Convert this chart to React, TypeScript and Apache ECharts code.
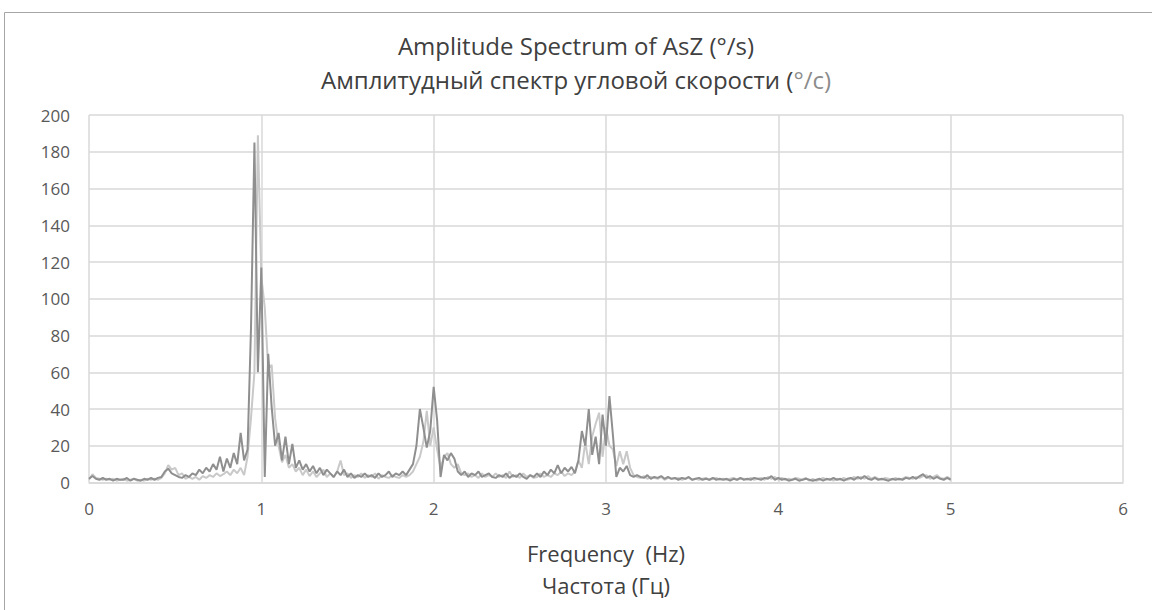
import React, { useEffect, useRef } from "react";
import * as echarts from "echarts";

// Frequency bin width (Hz) of the spectrum; bin i is at i * FREQ_STEP
const FREQ_STEP = 0.02;

const X_TICKS = [0, 1, 2, 3, 4, 5, 6];
const Y_TICKS = [0, 20, 40, 60, 80, 100, 120, 140, 160, 180, 200];

// Dark gray series (0 .. 5 Hz)
const darkAmp = [
  2, 3.5, 2, 1.5, 2.5, 1.5, 2, 1, 2, 1.5,
  1.5, 2.5, 1, 2, 1.5, 1, 2, 1.5, 2.5, 1.5,
  2.5, 3, 6, 7.5, 5, 4, 3, 2.5, 4, 3,
  5, 4, 7, 5, 8, 6, 10, 7, 14, 6,
  13, 8, 16, 10, 27, 12, 18, 84, 185, 60,
  117, 3, 70, 41, 20, 27, 12, 25, 10, 21,
  8, 12, 7, 10, 6, 9, 5, 8, 4, 7,
  5, 3, 6, 4, 7, 3, 5, 2.5, 4, 3,
  5, 3, 4, 2.5, 5, 3, 4, 6, 3, 5,
  4, 6, 4, 7, 10, 20, 40, 30, 19, 28,
  52, 34, 3, 15, 12, 16, 13, 6, 4, 6,
  3, 5, 4, 6, 3, 4, 5, 3, 2.5, 4,
  3, 5, 2.5, 4, 3, 5, 3, 2, 4, 3,
  5, 3, 6, 4, 7, 5, 9.5, 5, 8, 6,
  8.5, 5, 12, 28, 20, 40, 15, 25, 10, 37,
  20, 47, 26, 3, 8, 6, 9, 4, 3, 4,
  3, 2.5, 4, 2, 3, 2.5, 3.5, 2, 3, 2,
  2.5, 1.5, 2.5, 2, 3, 1.5, 2, 2.5, 1.5, 2,
  1.5, 2.5, 1.5, 2, 1.5, 2, 1, 2, 1.5, 2.5,
  1.5, 2, 1.5, 2.5, 2, 1.5, 2.5, 2, 3.5, 1.5,
  2.5, 1.5, 2, 1, 1.5, 2, 1, 1.5, 2, 1.5,
  1, 1.5, 2, 1, 2, 1.5, 2.5, 1.5, 2, 1,
  2, 2.5, 1.5, 3, 2, 3.5, 2, 1.5, 2.5, 1.5,
  2, 1.5, 1, 2, 1.5, 2, 1.5, 2.5, 2, 3,
  2, 3.5, 4.5, 2.5, 3.5, 2, 3, 2, 1.5, 2.5,
  1.5,
];

// Light gray series (0 .. 5 Hz)
const lightAmp = [
  1.5, 4.5, 2.5, 2, 1.5, 2, 1.5, 2, 1, 1.5,
  2, 1, 1.5, 2, 1, 1.5, 1, 2, 1.5, 2,
  1.5, 2.5, 5, 9.5, 7, 8, 4, 5, 2, 3,
  2, 3, 1.5, 3.5, 2.5, 4, 3, 5, 3.5, 4.5,
  6, 4, 7, 5, 8, 4, 14, 35, 60, 189,
  112, 95, 62, 64, 35, 20, 11, 15, 8, 10,
  6, 8, 4, 7, 3.5, 6, 3, 5, 7, 3,
  5, 3, 6, 12, 4, 5, 2.5, 4, 3, 5,
  2.5, 4, 3, 5, 2, 4, 3, 2.5, 4, 3,
  2.5, 4, 3, 4, 6, 10, 14, 22, 39, 20,
  30, 18, 8, 14, 16, 10, 8, 10, 5, 4,
  5, 3, 4, 2.5, 5, 3, 4, 3, 5, 3,
  4, 2.5, 6, 3, 4, 2.5, 5, 3, 4, 2.5,
  3, 5, 3, 4, 3, 5, 4, 6, 3.5, 5,
  4, 6, 12, 8, 22, 10, 25, 32, 38, 14,
  30, 20, 18, 9, 17, 10, 17, 8, 4, 3,
  2.5, 3.5, 2, 3, 2.5, 2, 3, 1.5, 2.5, 2,
  2, 2.5, 1.5, 2, 2.5, 1.5, 2, 1.5, 2, 2.5,
  1.5, 2, 2.5, 1.5, 2, 1.5, 2, 2.5, 1.5, 2,
  2, 1.5, 2.5, 1.5, 2, 2.5, 1.5, 3, 2, 3,
  1.5, 2.5, 1.5, 2, 1.5, 2.5, 2, 1.5, 2.5, 1,
  2, 1, 1.5, 2.5, 1.5, 2, 1, 2, 1.5, 2.5,
  1.5, 2, 3, 2, 3, 2, 3.5, 2, 3, 2,
  1.5, 2.5, 2, 1.5, 2.5, 1.5, 2, 3, 2.5, 2,
  3, 2.5, 3.5, 4, 2, 3, 4, 2.5, 2, 3,
  2,
];

const TITLE_EN = "Amplitude Spectrum of AsZ (°/s)";
const TITLE_RU_MAIN = "Амплитудный спектр угловой скорости (";
const TITLE_RU_UNIT = "°/c)";
const X_NAME = "Frequency  (Hz)\nЧастота (Гц)";

const FONT = "'Open Sans', 'Noto Sans', sans-serif";

export default function App() {
  const ref = useRef<HTMLDivElement>(null);

  useEffect(() => {
    if (!ref.current) return;
    const chart = echarts.init(ref.current, undefined, { renderer: "svg" });
    const toPairs = (arr: number[]) => arr.map((v, i) => [+(i * FREQ_STEP).toFixed(2), v]);

    chart.setOption({
      animation: false,
      backgroundColor: "#ffffff",
      textStyle: { fontFamily: FONT },
      title: [
        {
          text: TITLE_EN,
          left: "center",
          top: 28,
          textStyle: { fontFamily: FONT, fontSize: 24, fontWeight: "normal", color: "#404040" },
        },
        {
          text: `{a|${TITLE_RU_MAIN}}{b|${TITLE_RU_UNIT}}`,
          left: "center",
          top: 62,
          textStyle: {
            fontFamily: FONT,
            fontSize: 24,
            fontWeight: "normal",
            rich: {
              a: { fontFamily: FONT, fontSize: 24, color: "#404040" },
              b: { fontFamily: FONT, fontSize: 24, color: "#8c8c8c" },
            },
          },
        },
      ],
      graphic: [
        {
          type: "rect",
          silent: true,
          shape: { x: 4.5, y: 12.5, width: 1300, height: 800 },
          style: { fill: "none", stroke: "#a6a6a6", lineWidth: 1 },
          z: -1,
        },
      ],
      grid: { left: 89, right: 29, top: 115, bottom: 127.5, containLabel: false },
      xAxis: {
        type: "value",
        min: X_TICKS[0],
        max: X_TICKS[X_TICKS.length - 1],
        interval: 1,
        axisLine: { show: true, lineStyle: { color: "#d9d9d9", width: 1.5 } },
        axisTick: { show: false },
        splitLine: { show: true, lineStyle: { color: "#d9d9d9", width: 1.5 } },
        axisLabel: { color: "#595959", fontSize: 17, margin: 17, fontFamily: FONT },
        name: X_NAME,
        nameLocation: "middle",
        nameGap: 54,
        nameTextStyle: { color: "#404040", fontSize: 22, lineHeight: 32, fontFamily: FONT },
      },
      yAxis: {
        type: "value",
        min: Y_TICKS[0],
        max: Y_TICKS[Y_TICKS.length - 1],
        interval: 20,
        axisLine: { show: false },
        axisTick: { show: false },
        splitLine: { show: true, lineStyle: { color: "#d9d9d9", width: 1.5 } },
        axisLabel: { color: "#595959", fontSize: 17, margin: 19, fontFamily: FONT },
      },
      series: [
        {
          type: "line",
          name: "light",
          data: toPairs(lightAmp),
          showSymbol: false,
          symbol: "none",
          lineStyle: { color: "#c9c9c9", width: 2 },
          z: 2,
        },
        {
          type: "line",
          name: "dark",
          data: toPairs(darkAmp),
          showSymbol: false,
          symbol: "none",
          lineStyle: { color: "#8f8f8f", width: 2 },
          z: 3,
        },
      ],
    });

    return () => chart.dispose();
  }, []);

  return (
    <div
      ref={ref}
      style={{ position: "absolute", left: 0, top: 0, width: 1152, height: 610, background: "#fff" }}
    />
  );
}
